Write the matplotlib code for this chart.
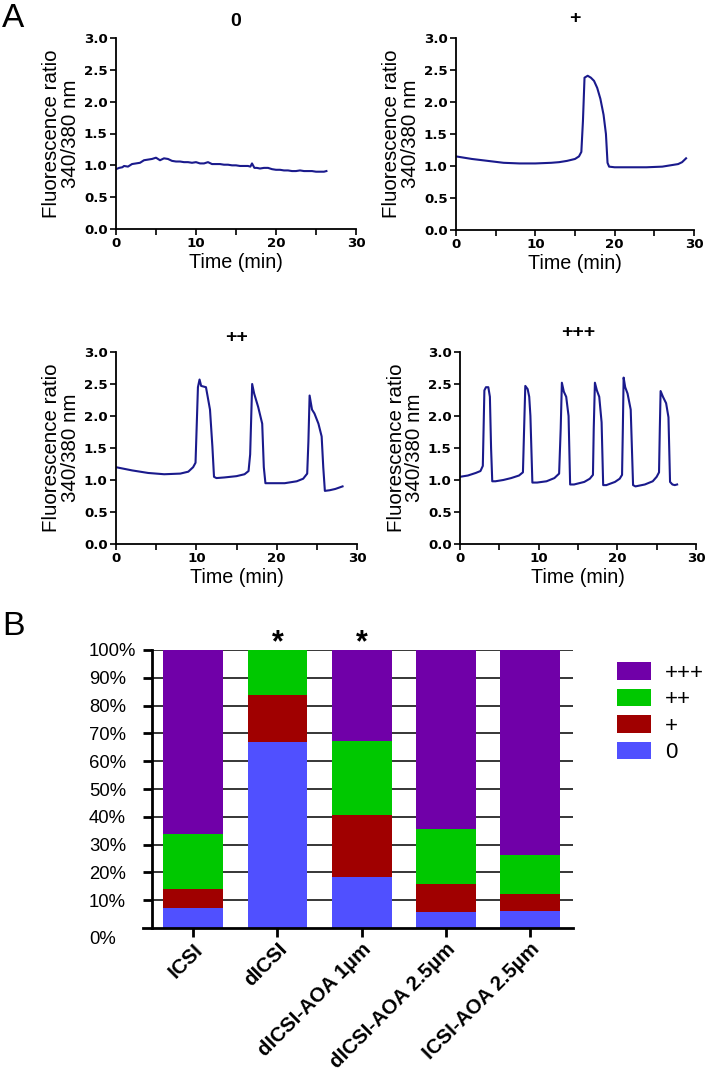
import matplotlib
matplotlib.use("Agg")
import matplotlib.pyplot as plt
import matplotlib.ticker as mticker
import numpy as np

plt.rcParams["font.family"] = ["Liberation Sans", "DejaVu Sans"]

# ── Panel A traces (time in min, fluorescence ratio 340/380) ────────────────
T_NONE = [0, 0.4, 0.8, 1.0, 1.5, 2.0, 2.5, 3.0, 3.5, 4.0, 4.5, 5.0, 5.5, 6.0, 6.5,
          7.0, 7.5, 8.0, 8.5, 9.0, 9.5, 10.0, 10.5, 11.0, 11.5, 12.0, 12.5, 13.0,
          13.5, 14.0, 14.5, 15.0, 15.5, 16.0, 16.5, 16.8, 17.0, 17.3, 17.6, 18.0,
          18.5, 19.0, 19.5, 20.0, 20.5, 21.0, 21.5, 22.0, 22.5, 23.0, 23.5, 24.0,
          24.5, 25.0, 25.5, 26.0, 26.3]
R_NONE = [0.94, 0.96, 0.97, 0.99, 0.98, 1.02, 1.03, 1.04, 1.08, 1.09, 1.10, 1.12,
          1.08, 1.11, 1.10, 1.07, 1.06, 1.06, 1.05, 1.05, 1.04, 1.05, 1.03, 1.03,
          1.05, 1.02, 1.02, 1.02, 1.01, 1.01, 1.00, 1.00, 0.99, 0.99, 0.99, 0.98,
          1.03, 0.96, 0.96, 0.95, 0.96, 0.96, 0.94, 0.93, 0.93, 0.92, 0.92, 0.91,
          0.91, 0.92, 0.91, 0.91, 0.91, 0.90, 0.90, 0.90, 0.91]

T_ONE = [0, 2, 4, 6, 8, 10, 12, 13, 14, 15, 15.5, 15.8, 16.0, 16.2, 16.6, 17.0,
         17.4, 17.8, 18.2, 18.6, 18.9, 19.1, 19.3, 20, 22, 24, 26, 27, 28, 28.5, 29.0]
R_ONE = [1.15, 1.11, 1.08, 1.05, 1.04, 1.04, 1.05, 1.06, 1.08, 1.11, 1.15, 1.22,
         1.70, 2.38, 2.41, 2.38, 2.33, 2.22, 2.05, 1.80, 1.50, 1.05, 0.99, 0.98,
         0.98, 0.98, 0.99, 1.01, 1.03, 1.06, 1.12]

T_TWO = [0, 2, 4, 6, 8, 9, 9.6, 9.9, 10.2, 10.4, 10.6, 11.2, 11.7, 12.0, 12.2,
         12.5, 13.5, 15.0, 16.0, 16.5, 16.7, 16.95, 17.2, 17.7, 18.2, 18.4, 18.6,
         19.5, 21.0, 22.5, 23.3, 23.8, 23.95, 24.1, 24.4, 24.7, 25.2, 25.6, 25.8,
         26.0, 26.6, 27.3, 28.2]
R_TWO = [1.20, 1.15, 1.11, 1.09, 1.10, 1.13, 1.20, 1.27, 2.45, 2.57, 2.47, 2.45,
         2.10, 1.52, 1.05, 1.03, 1.04, 1.06, 1.09, 1.14, 1.40, 2.50, 2.35, 2.14,
         1.88, 1.20, 0.95, 0.95, 0.95, 0.98, 1.02, 1.10, 1.60, 2.32, 2.10, 2.04,
         1.88, 1.68, 1.20, 0.83, 0.84, 0.86, 0.90]

T_THREE = [0, 1, 2, 2.6, 2.9, 3.1, 3.3, 3.6, 3.8, 3.95, 4.1, 4.5, 5.5, 6.5, 7.5,
           8.0, 8.15, 8.3, 8.6, 8.8, 8.95, 9.2, 9.8, 11.0, 12.0, 12.6, 12.8,
           12.95, 13.2, 13.5, 13.8, 14.0, 14.5, 15.8, 16.5, 16.9, 17.0, 17.15,
           17.4, 17.7, 18.0, 18.2, 18.6, 19.7, 20.3, 20.6, 20.7, 20.8, 21.0, 21.3,
           21.7, 22.0, 22.3, 23.5, 24.5, 25.0, 25.3, 25.4, 25.5, 25.8, 26.2, 26.5,
           26.7, 27.0, 27.3, 27.6]
R_THREE = [1.05, 1.07, 1.11, 1.14, 1.22, 2.40, 2.45, 2.45, 2.30, 1.50, 0.98,
           0.98, 1.00, 1.03, 1.07, 1.12, 1.80, 2.47, 2.42, 2.30, 2.00, 0.96,
           0.96, 0.98, 1.03, 1.10, 1.80, 2.52, 2.38, 2.30, 2.00, 0.93, 0.93,
           0.97, 1.02, 1.08, 1.80, 2.52, 2.40, 2.30, 1.90, 0.92, 0.92, 0.97,
           1.02, 1.08, 1.80, 2.60, 2.45, 2.35, 2.10, 0.92, 0.90, 0.93, 0.98,
           1.05, 1.12, 1.80, 2.39, 2.30, 2.20, 1.98, 0.97, 0.93, 0.92, 0.93]

TRACE_TITLES = ["0", "+", "++", "+++"]

# ── Panel B: distribution of patterns per group (%) ─────────────────────────
GROUPS = ["ICSI", "dICSI", "dICSI-AOA 1µm", "dICSI-AOA 2.5µm", "ICSI-AOA 2.5µm"]
PCT_0 = [7.3, 66.9, 18.2, 5.7, 6.2]
PCT_1 = [6.6, 16.8, 22.4, 10.0, 5.9]
PCT_2 = [19.9, 16.3, 26.5, 19.8, 14.1]
PCT_3 = [66.2, 0.0, 32.9, 64.5, 73.8]
SIGNIF = ["", "*", "*", "", ""]

LINE_C = "#1a1a8c"
C_0, C_1, C_2, C_3 = "#5050ff", "#a00000", "#00c800", "#7000a8"

W, H = 708, 1081
fig = plt.figure(figsize=(W / 100, H / 100), dpi=100)
fig.patch.set_facecolor("white")


def fbox(x0, y0, x1, y1):
    return [x0 / W, 1 - y1 / H, (x1 - x0) / W, (y1 - y0) / H]


boxes = [fbox(116, 38, 356, 229), fbox(456, 38, 694, 230),
         fbox(116, 352, 357, 544), fbox(460, 352, 696, 544)]
traces = [(T_NONE, R_NONE), (T_ONE, R_ONE), (T_TWO, R_TWO), (T_THREE, R_THREE)]
title_pads = [9, 11, 7, 11]

for box, (t, r), title, tp in zip(boxes, traces, TRACE_TITLES, title_pads):
    ax = fig.add_axes(box)
    ax.plot(t, r, color=LINE_C, linewidth=1.5)
    ax.set_xlim(0, 30)
    ax.set_ylim(0, 3.0)
    ax.spines[["top", "right"]].set_visible(False)
    ax.spines[["left", "bottom"]].set_linewidth(1.3)
    ax.xaxis.set_major_locator(mticker.FixedLocator([0, 10, 20, 30]))
    ax.xaxis.set_minor_locator(mticker.FixedLocator([5, 15, 25]))
    ax.set_yticks(np.arange(0, 3.01, 0.5))
    ax.yaxis.set_major_formatter(mticker.FormatStrFormatter("%.1f"))
    ax.tick_params(which="both", direction="out", length=4, width=1.2, pad=2)
    for lbl in ax.get_xticklabels() + ax.get_yticklabels():
        lbl.set_fontfamily("DejaVu Sans")
        lbl.set_fontweight("bold")
        lbl.set_fontsize(9.6)
    ax.set_xlabel("Time (min)", fontsize=14.2, labelpad=2)
    ax.set_ylabel("Fluorescence ratio\n340/380 nm", fontsize=14.8,
                  linespacing=0.95, labelpad=3)
    ax.set_title(title, fontsize=14, fontweight="bold", pad=tp)

fig.text(2 / W, 1 - 3 / H, "A", fontsize=24, va="top", ha="left")
fig.text(2 / W, 1 - 611 / H, "B", fontsize=24.5, va="top", ha="left")

# ── Panel B ─────────────────────────────────────────────────────────────────
axb = fig.add_axes(fbox(152, 650, 573, 928))
x = np.arange(len(GROUPS))
bw = 0.71
b0 = np.zeros(len(GROUPS))
for vals, col, lab in [(PCT_0, C_0, "0"), (PCT_1, C_1, "+"),
                       (PCT_2, C_2, "++"), (PCT_3, C_3, "+++")]:
    axb.bar(x, vals, bw, bottom=b0, color=col, edgecolor="none", label=lab, zorder=2)
    b0 = b0 + np.array(vals)

axb.set_xlim(-0.49, 4.51)
axb.set_ylim(0, 100)
axb.set_axisbelow(True)
axb.yaxis.grid(True, color="black", linewidth=1.1, zorder=0)
axb.spines[["top", "right"]].set_visible(False)
axb.spines[["left", "bottom"]].set_linewidth(2.0)
axb.spines["bottom"].set_bounds(-0.6, 4.51)
axb.set_yticks(np.arange(10, 101, 10))
axb.yaxis.set_major_formatter(mticker.FormatStrFormatter("%d%%"))
axb.tick_params(axis="y", length=6.5, width=2.0, pad=38.9, labelsize=13.3)
for lbl in axb.get_yticklabels():
    lbl.set_horizontalalignment("left")
axb.annotate("0%", xy=(0, 0), xycoords=("axes fraction", "data"),
             xytext=(-63, -12), textcoords="offset pixels",
             ha="left", va="center", fontsize=13.3)
axb.set_xticks(x)
axb.set_xticklabels(GROUPS, rotation=45, ha="right", va="top",
                    rotation_mode="anchor", fontsize=14.8, fontweight="bold")
axb.tick_params(axis="x", length=6.5, width=2.0, pad=2)

for xi, s in zip(x, SIGNIF):
    if s:
        axb.annotate(s, xy=(xi, 100), xytext=(0, 7), textcoords="offset pixels",
                     ha="center", va="center", fontsize=22, fontweight="bold")

handles, labels = axb.get_legend_handles_labels()
fig.legend(handles[::-1], labels[::-1], loc="upper left",
           bbox_to_anchor=(617 / W, 1 - 662 / H), frameon=False, borderpad=0,
           borderaxespad=0, fontsize=16, handlelength=1.55, handleheight=0.86,
           handletextpad=0.6, labelspacing=0.22)

plt.savefig("out.png", dpi=100, facecolor="white")
plt.close()
